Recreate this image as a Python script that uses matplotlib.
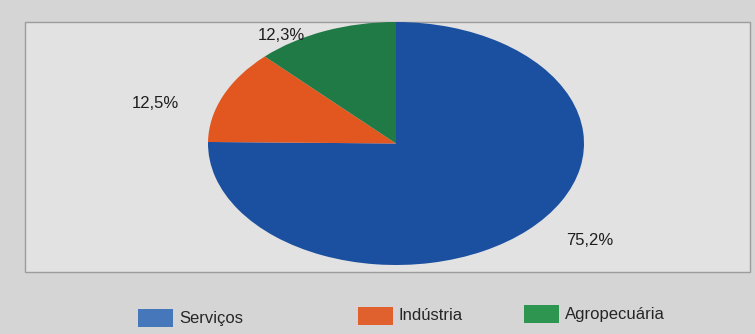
import matplotlib.pyplot as plt
from matplotlib.patches import Rectangle

# dados
setores = ['Serviços', 'Indústria', 'Agropecuária']
valores = [75.2, 12.5, 12.3]
rotulos = ['75,2%', '12,5%', '12,3%']

cores_pizza = ['#1b4f9f', '#e2561f', '#207a46']
cores_legenda = ['#4677bb', '#e0602e', '#2e9550']

plt.rcParams['font.family'] = ['Liberation Sans', 'DejaVu Sans']

W, H = 755, 334
fig = plt.figure(figsize=(W / 100, H / 100), dpi=100, facecolor='#d5d5d5')


def px(x0, y0, x1, y1):
    # pixel box (top-left origin) -> figure fraction [l, b, w, h]
    return [x0 / W, 1 - y1 / H, (x1 - x0) / W, (y1 - y0) / H]


# painel do grafico (atras da pizza)
fig.patches.append(Rectangle((25 / W, 1 - 272 / H), 725 / W, 250 / H,
                             transform=fig.transFigure, facecolor='#e2e2e2',
                             edgecolor='#9c9c9c', linewidth=1.0, zorder=-5))

# pizza (achatada como na foto)
ax = fig.add_axes(px(208, 22, 584, 265))
ax.set_zorder(2)
wedges, _ = ax.pie(valores, colors=cores_pizza, startangle=90, counterclock=False,
                   radius=1, wedgeprops=dict(linewidth=0))
ax.set_aspect('auto')
ax.set_xlim(-1, 1)
ax.set_ylim(-1, 1)
ax.set_axis_off()

# posicoes dos rotulos em coordenadas do eixo (x,y no circulo unitario)
pos_rotulos = [(1.03, -0.80), (-1.28, 0.33), (-0.61, 0.89)]
for txt, (x, y) in zip(rotulos, pos_rotulos):
    ax.text(x, y, txt, ha='center', va='center', fontsize=12,
            color='#1e1e1e', clip_on=False)

# legenda manual
leg_x = [138, 358, 524]
leg_y = [318, 316, 314]
for nome, cor, x, y in zip(setores, cores_legenda, leg_x, leg_y):
    fig.patches.append(Rectangle((x / W, 1 - (y + 9) / H), 35 / W, 18 / H,
                                 transform=fig.transFigure, facecolor=cor,
                                 edgecolor='none'))
    fig.text((x + 41) / W, 1 - y / H, nome, ha='left', va='center',
             fontsize=12, color='#262626')

plt.savefig('out.png', dpi=100, facecolor=fig.get_facecolor())
